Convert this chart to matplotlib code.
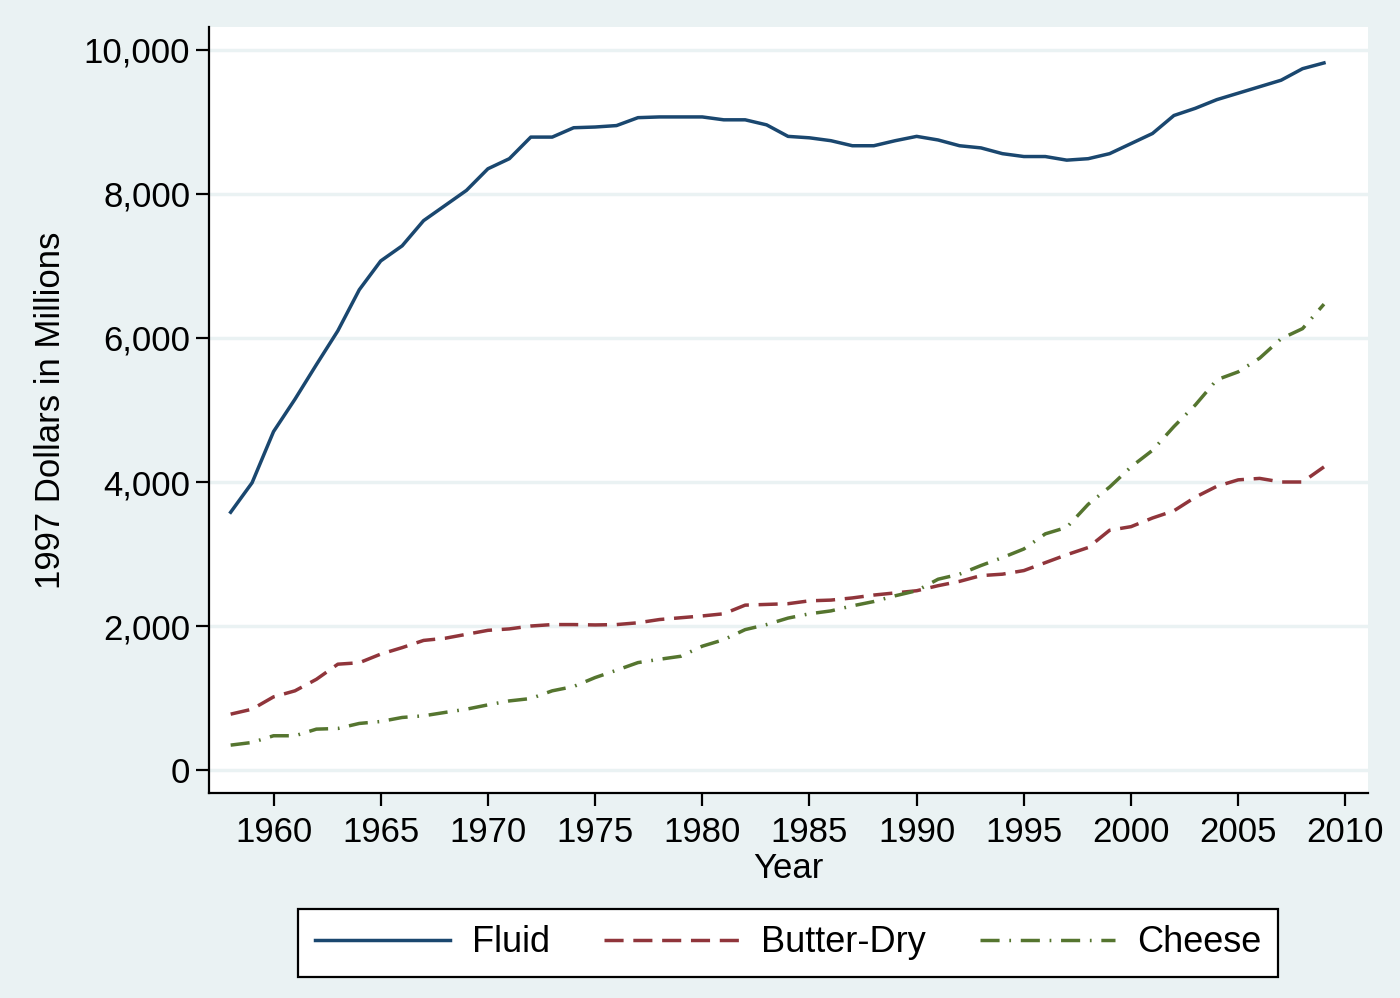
import matplotlib
matplotlib.use('Agg')
import matplotlib.pyplot as plt
from matplotlib import ticker

plt.rcParams['font.family'] = ['Liberation Sans', 'DejaVu Sans']

years = list(range(1958, 2010))

fluid = [3580, 3990, 4700, 5150, 5630, 6100, 6670, 7070, 7280, 7630,
         7840, 8050, 8350, 8490, 8790, 8790, 8920, 8930, 8950, 9060,
         9070, 9070, 9070, 9030, 9030, 8960, 8800, 8780, 8740, 8670,
         8670, 8740, 8800, 8750, 8670, 8640, 8560, 8520, 8520, 8470,
         8490, 8560, 8700, 8840, 9090, 9190, 9310, 9400, 9490, 9580,
         9740, 9820]

butter = [776, 845, 1016, 1100, 1260, 1470, 1490, 1610, 1700, 1800,
          1830, 1885, 1940, 1960, 2000, 2020, 2020, 2015, 2020, 2045,
          2090, 2115, 2140, 2170, 2290, 2300, 2310, 2350, 2360, 2390,
          2430, 2460, 2490, 2560, 2620, 2700, 2720, 2770, 2880, 2990,
          3090, 3330, 3380, 3500, 3600, 3790, 3940, 4030, 4050, 4000,
          4000, 4210]

cheese = [346, 383, 476, 476, 568, 577, 647, 674, 730, 753,
          800, 845, 905, 960, 993, 1100, 1160, 1284, 1386, 1492,
          1538, 1580, 1720, 1810, 1950, 2020, 2110, 2170, 2210, 2280,
          2340, 2420, 2490, 2650, 2720, 2840, 2950, 3070, 3280, 3370,
          3690, 3930, 4210, 4440, 4770, 5070, 5420, 5530, 5720, 5990,
          6130, 6470]

labels = ['Fluid', 'Butter-Dry', 'Cheese']
xticks = list(range(1960, 2011, 5))
yticks = [0, 2000, 4000, 6000, 8000, 10000]

bg = '#eaf2f3'
W, H = 1400, 998
fig = plt.figure(figsize=(W / 100, H / 100), dpi=100, facecolor=bg)
ax = fig.add_axes([209 / W, 1 - 793 / H, (1367.5 - 209) / W, (793 - 27) / H])
ax.set_facecolor('white')

lw = 2.5
ax.plot(years, fluid, color='#1a476f', lw=lw, label=labels[0])
ax.plot(years, butter, color='#90353b', lw=lw, dashes=(5.5, 2.8), label=labels[1])
ax.plot(years, cheese, color='#55752f', lw=lw, dashes=(5.5, 2.8, 0.5, 2.8), label=labels[2])

ax.set_xlim(1956.99, 2011.03)
ax.set_ylim(-319, 10319)
ax.set_xticks(xticks)
ax.set_yticks(yticks)
ax.yaxis.set_major_formatter(ticker.StrMethodFormatter('{x:,.0f}'))

ax.grid(axis='y', color=bg, lw=2.5)
ax.set_axisbelow(True)
for s in ['top', 'right']:
    ax.spines[s].set_visible(False)
for s in ['left', 'bottom']:
    ax.spines[s].set_linewidth(1.6)
    ax.spines[s].set_color('black')

ax.tick_params(axis='both', direction='out', length=9.5, width=1.6,
               labelsize=25, colors='black')
ax.tick_params(axis='x', pad=7)
ax.tick_params(axis='y', pad=4)

ax.set_xlabel('Year', fontsize=25, labelpad=2)
ax.set_ylabel('1997 Dollars in Millions', fontsize=25, labelpad=12)

leg = fig.legend(loc='center', bbox_to_anchor=(788 / W, 1 - 943 / H), ncol=3,
                 fontsize=26, handlelength=3.75, handletextpad=0.6,
                 columnspacing=1.5, borderpad=0.45, fancybox=False,
                 framealpha=1, edgecolor='black')
leg.get_frame().set_linewidth(1.6)

fig.savefig('out.png', dpi=100, facecolor=bg)
